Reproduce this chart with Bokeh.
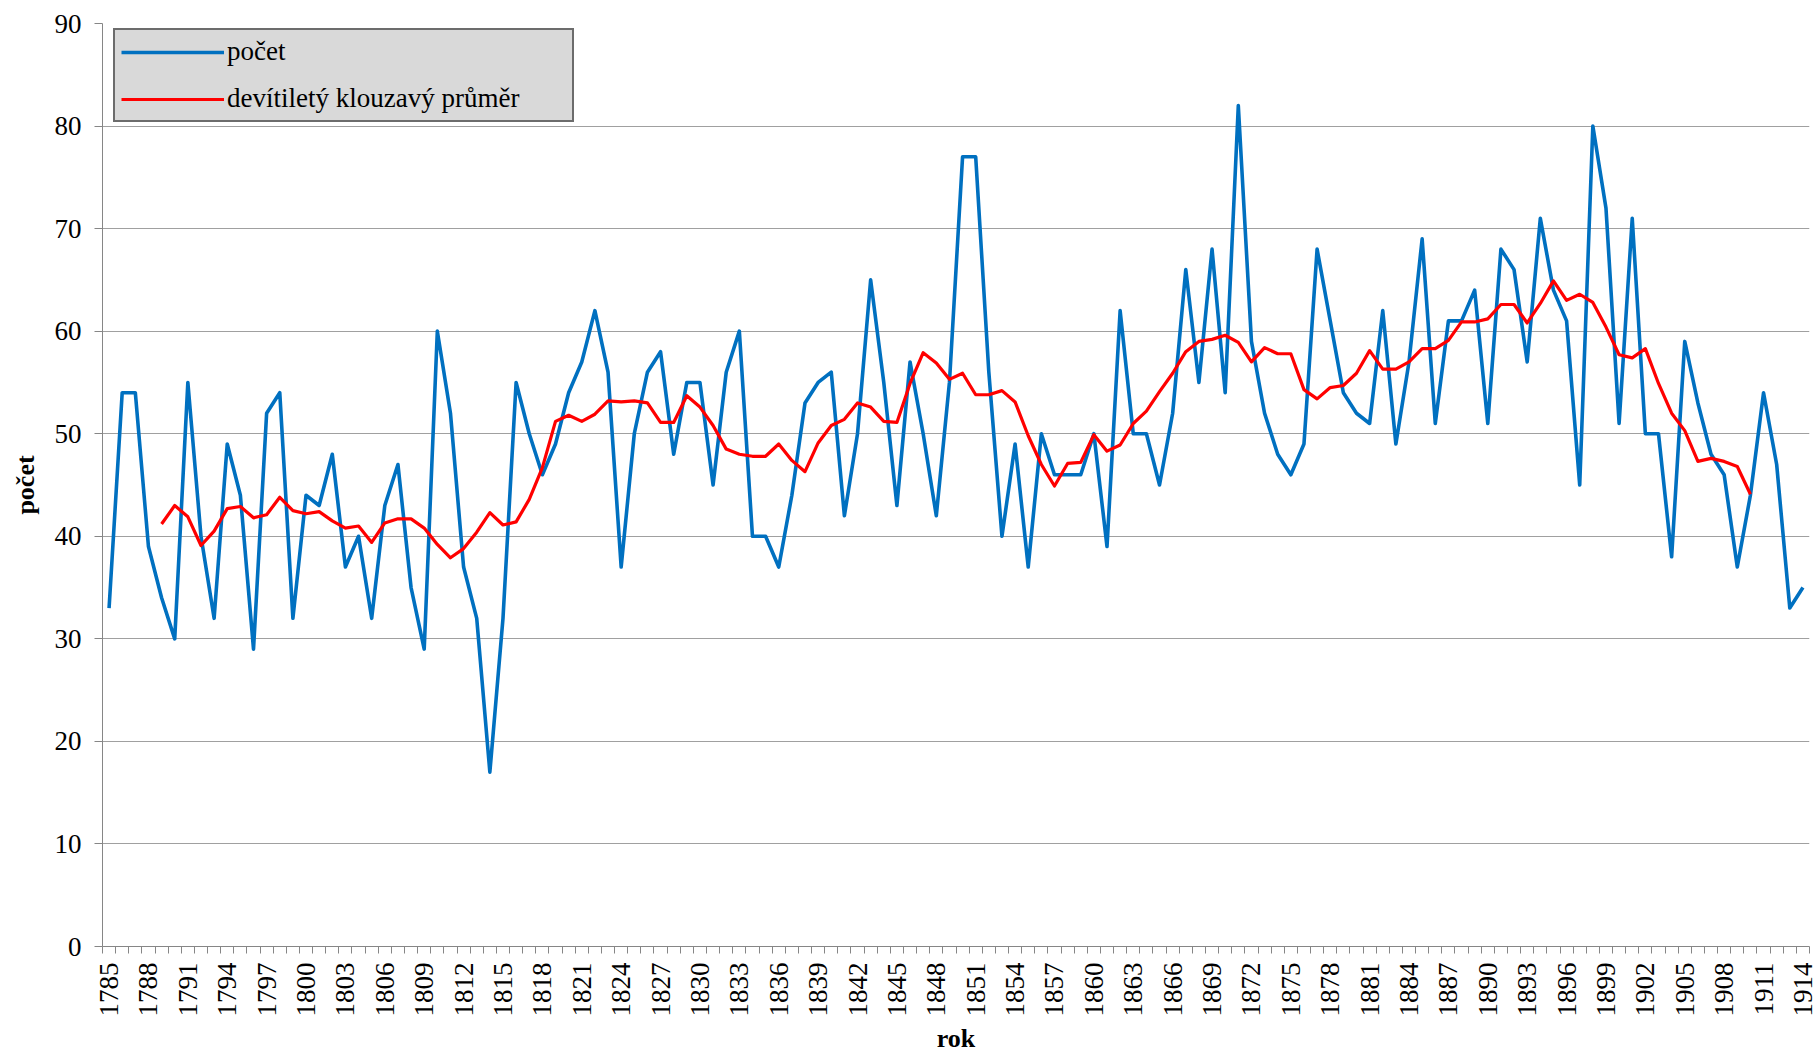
import math
from bokeh.plotting import figure
from bokeh.models import FixedTicker, Range1d, Legend, LegendItem
from bokeh.embed import file_html
from bokeh.resources import INLINE

# ---- data ----
years = list(range(1785, 1915))
pocet = [
    33, 54, 54, 39, 34, 30, 55, 40, 32, 49,
    44, 29, 52, 54, 32, 44, 43, 48, 37, 40,
    32, 43, 47, 35, 29, 60, 52, 37, 32, 17,
    32, 55, 50, 46, 49, 54, 57, 62, 56, 37,
    50, 56, 58, 48, 55, 55, 45, 56, 60, 40,
    40, 37, 44, 53, 55, 56, 42, 50, 65, 55,
    43, 57, 50, 42, 55, 77, 77, 56, 40, 49,
    37, 50, 46, 46, 46, 50, 39, 62, 50, 50,
    45, 52, 66, 55, 68, 54, 82, 59, 52, 48,
    46, 49, 68, 61, 54, 52, 51, 62, 49, 57,
    69, 51, 61, 61, 64, 51, 68, 66, 57, 71,
    64, 61, 45, 80, 72, 51, 71, 50, 50, 38,
    59, 53, 48, 46, 37, 44, 54, 47, 33, 35,
]
ma_years = list(range(1789, 1911))
prumer = [
    41.2, 43.0, 41.9, 39.1, 40.5, 42.7, 42.9, 41.8, 42.1, 43.8,
    42.5, 42.2, 42.4, 41.5, 40.8, 41.0, 39.4, 41.3, 41.7, 41.7,
    40.8, 39.2, 37.9, 38.8, 40.4, 42.3, 41.1, 41.4, 43.6, 46.7,
    51.2, 51.8, 51.2, 51.9, 53.2, 53.1, 53.2, 53.0, 51.1, 51.1,
    53.7, 52.6, 50.8, 48.5, 48.0, 47.8, 47.8, 49.0, 47.4, 46.3,
    49.1, 50.8, 51.4, 53.0, 52.6, 51.2, 51.1, 54.9, 57.9, 56.9,
    55.3, 55.9, 53.8, 53.8, 54.2, 53.1, 49.8, 47.0, 44.9, 47.1,
    47.2, 49.9, 48.3, 48.9, 51.0, 52.2, 54.1, 55.9, 58.0, 59.0,
    59.2, 59.6, 58.9, 57.0, 58.4, 57.8, 57.8, 54.3, 53.4, 54.5,
    54.7, 55.9, 58.1, 56.3, 56.3, 57.0, 58.3, 58.3, 59.1, 60.9,
    60.9, 61.2, 62.6, 62.6, 60.8, 62.7, 64.9, 63.0, 63.6, 62.8,
    60.4, 57.7, 57.4, 58.3, 54.9, 52.0, 50.3, 47.3, 47.6, 47.3,
    46.8, 44.1,
]
y_ticks = [0, 10, 20, 30, 40, 50, 60, 70, 80, 90]
x_tick_years = years[::3]

FONT = "Liberation Serif"
AXIS_GRAY = "#868686"
TICK_SIZE = "27px"
LABEL_SIZE = "27px"
TITLE_SIZE = "26px"

p = figure(
    width=1820, height=1056,
    output_backend="svg", toolbar_location=None,
    x_range=Range1d(years[0] - 0.5, years[-1] + 0.5),
    y_range=Range1d(y_ticks[0], y_ticks[-1]),
    min_border_left=102, min_border_right=11,
    min_border_top=23, min_border_bottom=110,
)
p.outline_line_color = None
p.background_fill_color = "white"

# grid
p.xgrid.grid_line_color = None
p.ygrid.ticker = FixedTicker(ticks=y_ticks)
p.ygrid.grid_line_color = "#a0a0a0"
p.ygrid.grid_line_width = 1

# y axis
p.yaxis.ticker = FixedTicker(ticks=y_ticks)
p.yaxis.axis_line_color = AXIS_GRAY
p.yaxis.major_tick_line_color = AXIS_GRAY
p.yaxis.major_tick_out = 8
p.yaxis.major_tick_in = 0
p.yaxis.minor_tick_line_color = None
p.yaxis.major_label_text_font = FONT
p.yaxis.major_label_text_font_size = TICK_SIZE
p.yaxis.major_label_text_color = "black"
p.yaxis.major_label_standoff = 13
p.yaxis.axis_label = "počet"
p.yaxis.axis_label_text_font = FONT
p.yaxis.axis_label_text_font_size = TITLE_SIZE
p.yaxis.axis_label_text_font_style = "bold"
p.yaxis.axis_label_text_color = "black"
p.yaxis.axis_label_standoff = 12

# x axis
p.xaxis.ticker = FixedTicker(
    ticks=x_tick_years,
    minor_ticks=[y - 0.5 for y in years] + [years[-1] + 0.5],
)
p.xaxis.axis_line_color = AXIS_GRAY
p.xaxis.major_tick_line_color = None
p.xaxis.major_tick_out = 7
p.xaxis.major_tick_in = 0
p.xaxis.minor_tick_line_color = AXIS_GRAY
p.xaxis.minor_tick_out = 7
p.xaxis.minor_tick_in = 0
p.xaxis.major_label_orientation = math.pi / 2
p.xaxis.major_label_text_font = FONT
p.xaxis.major_label_text_font_size = TICK_SIZE
p.xaxis.major_label_text_color = "black"
p.xaxis.major_label_standoff = 9
p.xaxis.axis_label = "rok"
p.xaxis.axis_label_text_font = FONT
p.xaxis.axis_label_text_font_size = TITLE_SIZE
p.xaxis.axis_label_text_font_style = "bold"
p.xaxis.axis_label_text_color = "black"
p.xaxis.axis_label_standoff = 4

# series
r1 = p.line(years, pocet, line_color="#0070C0", line_width=3.6, line_join="round")
r2 = p.line(ma_years, prumer, line_color="#FF0000", line_width=3.2, line_join="round")

legend = Legend(
    items=[
        LegendItem(label="počet", renderers=[r1]),
        LegendItem(label="devítiletý klouzavý průměr", renderers=[r2]),
    ],
    location=(11, 824),
)
legend.background_fill_color = "#d9d9d9"
legend.background_fill_alpha = 1
legend.border_line_color = "black"
legend.border_line_width = 2
legend.label_text_font = FONT
legend.label_text_font_size = LABEL_SIZE
legend.label_text_color = "black"
legend.glyph_width = 103
legend.glyph_height = 30
legend.label_height = 30
legend.label_width = 339
legend.label_standoff = 3
legend.spacing = 16
legend.padding = 6
legend.margin = 0
p.add_layout(legend)

open("out.html", "w").write(file_html(p, INLINE))
